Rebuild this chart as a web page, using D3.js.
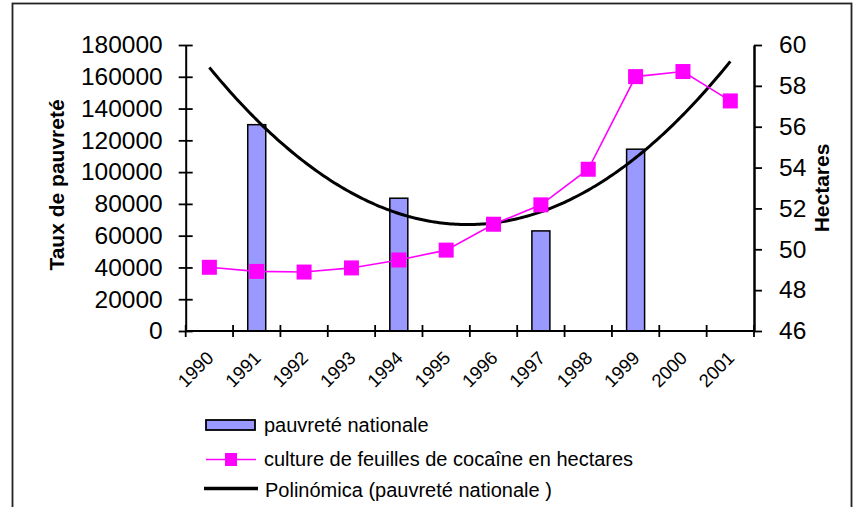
<!DOCTYPE html>
<html>
<head>
<meta charset="utf-8">
<script src="https://cdn.jsdelivr.net/npm/d3@7"></script>
<style>
  html, body { margin: 0; padding: 0; background: #fff; }
  svg { display: block; font-family: "Liberation Sans", Arial, sans-serif; }
</style>
</head>
<body>
<svg id="chart" width="865" height="507"></svg>
<script>
// Years on the category axis
const years = ["1990","1991","1992","1993","1994","1995","1996","1997","1998","1999","2000","2001"];
// Coca leaf cultivation (hectares), plotted against the left scale
const cocaHectares = [40100, 37500, 37100, 39700, 44700, 50900, 67200, 79400, 101800, 160100, 163300, 144800];
// National poverty rate, only surveyed years; plotted against the right scale
const povertyYears = ["1991","1994","1997","1999"];
const povertyRate = [56.1, 52.5, 50.9, 54.9];
// Tick labels
const leftTicks = [0, 20000, 40000, 60000, 80000, 100000, 120000, 140000, 160000, 180000];
const rightTicks = [46, 48, 50, 52, 54, 56, 58, 60];

(function () {
const svg = d3.select("#chart");

// Outer frame
svg.append("rect")
  .attr("x", 12.5).attr("y", 3.5).attr("width", 839).attr("height", 520)
  .attr("fill", "none").attr("stroke", "#222").attr("stroke-width", 1.8);

const plotL = 185.7, plotR = 754, plotT = 45, plotB = 331;

const x = d3.scaleBand().domain(years).range([plotL, plotR]).paddingInner(0).paddingOuter(0);
const yL = d3.scaleLinear().domain([0, 180000]).range([plotB, plotT]);
const yR = d3.scaleLinear().domain([46, 60]).range([plotB, plotT]);
const bw = x.bandwidth();
const cx = d => x(d) + bw / 2;

// Bars: national poverty
svg.append("g").selectAll("rect")
  .data(povertyYears.map((y, i) => ({ year: y, v: povertyRate[i] })))
  .join("rect")
  .attr("x", d => cx(d.year) - 9)
  .attr("width", 18)
  .attr("y", d => yR(d.v))
  .attr("height", d => plotB - yR(d.v))
  .attr("fill", "#9999FF")
  .attr("stroke", "#000")
  .attr("stroke-width", 1.5);

// Polynomial (order 2) trendline fitted to the poverty series, x = category index
function quadFit(xs, ys) {
  const s = [0, 0, 0, 0, 0], t = [0, 0, 0];
  xs.forEach((xv, i) => {
    for (let k = 0; k <= 4; k++) s[k] += Math.pow(xv, k);
    for (let k = 0; k <= 2; k++) t[k] += Math.pow(xv, k) * ys[i];
  });
  const A = [[s[0], s[1], s[2], t[0]], [s[1], s[2], s[3], t[1]], [s[2], s[3], s[4], t[2]]];
  for (let i = 0; i < 3; i++) {
    for (let j = i + 1; j < 3; j++) {
      const f = A[j][i] / A[i][i];
      for (let k = i; k < 4; k++) A[j][k] -= f * A[i][k];
    }
  }
  const c = [0, 0, 0];
  for (let i = 2; i >= 0; i--) {
    let v = A[i][3];
    for (let k = i + 1; k < 3; k++) v -= A[i][k] * c[k];
    c[i] = v / A[i][i];
  }
  return xv => c[0] + c[1] * xv + c[2] * xv * xv;
}
const idx = povertyYears.map(y => years.indexOf(y) + 1);
const trend = quadFit(idx, povertyRate);
const xIdx = d3.scaleLinear().domain([1, years.length]).range([cx(years[0]), cx(years[years.length - 1])]);
const trendPts = d3.range(1, years.length + 0.001, 0.05);
svg.append("path")
  .datum(trendPts)
  .attr("fill", "none")
  .attr("stroke", "#000")
  .attr("stroke-width", 3)
  .attr("d", d3.line().x(d => xIdx(d)).y(d => yR(trend(d))));

// Coca line with square markers
svg.append("path")
  .datum(cocaHectares)
  .attr("fill", "none")
  .attr("stroke", "#FF00FF")
  .attr("stroke-width", 1.6)
  .attr("d", d3.line().x((d, i) => cx(years[i])).y(d => yL(d)));
svg.append("g").selectAll("rect")
  .data(cocaHectares)
  .join("rect")
  .attr("x", (d, i) => cx(years[i]) - 7.5)
  .attr("y", d => yL(d) - 7.5)
  .attr("width", 15).attr("height", 15)
  .attr("fill", "#FF00FF");

// Left axis
const gL = svg.append("g").attr("transform", `translate(${plotL},0)`)
  .call(d3.axisLeft(yL).tickValues(leftTicks).tickFormat(d3.format("d")).tickSize(7).tickSizeOuter(0));
gL.select(".domain").attr("stroke-width", 2);
gL.selectAll(".tick line").attr("x1", -7).attr("x2", 7).attr("stroke-width", 1.8);
gL.selectAll(".tick text").attr("x", -23).attr("font-size", "24.5px").attr("fill", "#000")
  .attr("font-family", "Liberation Sans, Arial, sans-serif");

// Right axis
const gR = svg.append("g").attr("transform", `translate(${plotR},0)`)
  .call(d3.axisRight(yR).tickValues(rightTicks).tickSize(8).tickSizeOuter(0));
gR.select(".domain").attr("stroke-width", 2.5);
gR.selectAll(".tick line").attr("stroke-width", 1.8);
gR.selectAll(".tick text").attr("x", 25).attr("font-size", "24.5px").attr("fill", "#000")
  .attr("font-family", "Liberation Sans, Arial, sans-serif");

// Bottom axis: ticks on category boundaries
const gB = svg.append("g");
gB.append("line").attr("x1", plotL).attr("x2", plotR).attr("y1", plotB).attr("y2", plotB)
  .attr("stroke", "#000").attr("stroke-width", 2);
gB.selectAll("line.tk")
  .data(years.map(y => x(y)).concat([plotR]))
  .join("line").attr("class", "tk")
  .attr("x1", d => d).attr("x2", d => d)
  .attr("y1", plotB - 6).attr("y2", plotB + 6)
  .attr("stroke", "#000").attr("stroke-width", 1.8);
gB.selectAll("text")
  .data(years)
  .join("text")
  .attr("transform", d => `translate(${cx(d) - 4},${plotB + 19}) rotate(-45)`)
  .attr("text-anchor", "end")
  .attr("dy", "0.71em")
  .attr("font-size", "18.5px")
  .text(d => d);

// Axis titles
svg.append("text")
  .attr("transform", "translate(64,185) rotate(-90)")
  .attr("text-anchor", "middle")
  .attr("font-size", "21px").attr("font-weight", "bold")
  .text("Taux de pauvreté");
svg.append("text")
  .attr("transform", "translate(829,188) rotate(-90)")
  .attr("text-anchor", "middle")
  .attr("font-size", "21px").attr("font-weight", "bold")
  .text("Hectares");

// Legend
const lg = svg.append("g");
lg.append("rect").attr("x", 206).attr("y", 420).attr("width", 49).attr("height", 10)
  .attr("fill", "#9999FF").attr("stroke", "#000").attr("stroke-width", 1.8);
lg.append("text").attr("x", 264).attr("y", 432).attr("font-size", "20px").text("pauvreté nationale");
lg.append("line").attr("x1", 206).attr("x2", 256).attr("y1", 459.5).attr("y2", 459.5)
  .attr("stroke", "#FF00FF").attr("stroke-width", 1.6);
lg.append("rect").attr("x", 225).attr("y", 453).attr("width", 12).attr("height", 13).attr("fill", "#FF00FF");
lg.append("text").attr("x", 264).attr("y", 465.5).attr("font-size", "20px")
  .text("culture de feuilles de cocaîne en hectares");
lg.append("line").attr("x1", 204).attr("x2", 258).attr("y1", 488.5).attr("y2", 488.5)
  .attr("stroke", "#000").attr("stroke-width", 3.5);
lg.append("text").attr("x", 265).attr("y", 497).attr("font-size", "20px")
  .text("Polinómica (pauvreté nationale )");
})();
</script>
</body>
</html>
